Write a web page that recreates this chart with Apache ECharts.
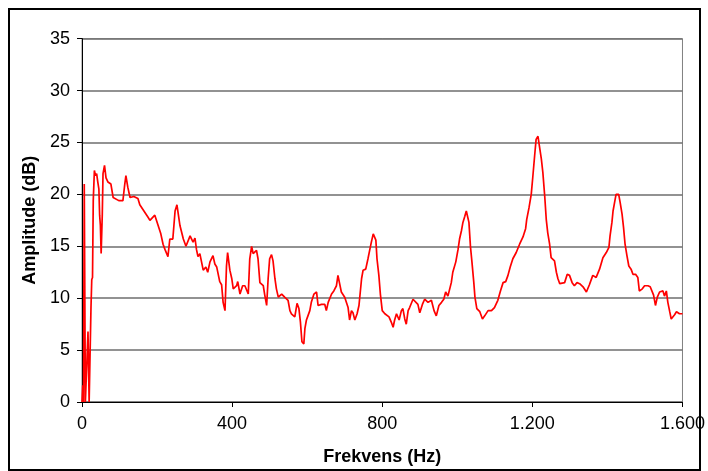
<!DOCTYPE html>
<html>
<head>
<meta charset="utf-8">
<script src="https://cdn.jsdelivr.net/npm/echarts@6/dist/echarts.min.js"></script>
<style>
  html, body { margin: 0; padding: 0; background: #fff; }
  #chart { width: 708px; height: 471px; }
</style>
</head>
<body>
<div id="chart"></div>
<script>
// frekvens (Hz) og amplitude (dB), lest av fra figuren
var freqHz = [
  0, 2, 4, 6, 9, 14, 16, 19, 22, 24, 26, 28, 30, 33, 36, 39, 42, 45, 47, 49, 51, 54, 56,
  60, 64, 69, 77, 83, 88, 98, 109, 114, 117, 122, 128, 138, 149, 154, 165, 176, 181, 194,
  202, 210, 216, 221, 229, 234, 242, 248, 253, 261, 270, 277, 282, 288, 292, 296, 301, 305,
  309, 314, 319, 323, 330, 335, 341, 349, 354, 359, 367, 372, 376, 381, 385, 388, 394, 399,
  403, 412, 415, 421, 428, 434, 443, 447, 452, 456, 465, 469, 474, 483, 487, 492, 496, 500,
  505, 509, 514, 518, 523, 532, 540, 549, 554, 558, 567, 573, 578, 582, 586, 591, 594, 598,
  602, 607, 611, 618, 625, 629, 638, 647, 651, 656, 665, 671, 678, 682, 687, 691, 700, 705,
  709, 713, 718, 722, 727, 733, 738, 745, 749, 756, 762, 767, 771, 776, 780, 783, 786, 791,
  795, 800, 807, 811, 818, 824, 829, 833, 838, 845, 851, 855, 860, 864, 869, 873, 882, 887,
  895, 900, 907, 913, 922, 931, 938, 944, 951, 958, 964, 969, 975, 984, 988, 996, 1002, 1006,
  1011, 1015, 1020, 1024, 1028, 1031, 1035, 1039, 1044, 1047, 1052, 1060, 1067, 1073, 1082,
  1091, 1099, 1108, 1115, 1122, 1129, 1135, 1141, 1148, 1157, 1166, 1175, 1182, 1185, 1191,
  1197, 1201, 1206, 1210, 1215, 1219, 1224, 1228, 1233, 1237, 1241, 1246, 1250, 1259, 1264,
  1268, 1273, 1277, 1286, 1293, 1299, 1306, 1312, 1319, 1326, 1335, 1344, 1352, 1361, 1370,
  1379, 1388, 1397, 1404, 1407, 1412, 1415, 1419, 1423, 1430, 1434, 1439, 1443, 1447, 1452,
  1457, 1463, 1468, 1475, 1481, 1485, 1493, 1499, 1508, 1514, 1519, 1523, 1528, 1533, 1539,
  1543, 1548, 1552, 1557, 1561, 1566, 1570, 1575, 1579, 1584, 1588, 1592, 1600
];
var ampDb = [
  0, 1.6, 0, 21.0, 0, 0, 6.8, 0, 0, 9.2, 11.8, 12.0, 19.4, 22.3, 21.8, 22.0, 21.2, 20.5, 18.0, 17.0, 14.3, 18.0, 22.0,
  22.8, 21.6, 21.2, 21.0, 19.7, 19.6, 19.4, 19.4, 21.0, 21.8, 20.7, 19.7, 19.8, 19.6, 19.0, 18.4, 17.8, 17.5, 18.0,
  17.1, 16.2, 15.2, 14.7, 14.0, 15.7, 15.7, 18.4, 19.0, 17.0, 15.7, 15.0, 15.1, 16.0, 15.7, 15.4, 15.8, 14.7,
  14.0, 14.3, 14.3, 12.7, 13.0, 12.5, 13.5, 14.1, 13.3, 13.0, 11.6, 11.3, 9.6, 8.8, 13.1, 14.4, 12.7, 11.9,
  10.9, 11.2, 11.6, 10.4, 11.2, 11.2, 10.4, 13.8, 15.0, 14.3, 14.6, 13.8, 11.5, 11.2, 10.3, 9.3, 11.9, 13.8,
  14.2, 13.6, 11.9, 10.9, 10.1, 10.4, 10.1, 9.8, 8.8, 8.5, 8.2, 9.5, 9.0, 7.7, 5.8, 5.6, 7.1, 7.9,
  8.3, 8.8, 9.6, 10.4, 10.6, 9.3, 9.4, 9.4, 8.8, 9.6, 10.4, 10.7, 11.2, 12.2, 12.3, 10.6, 10.1, 10.1,
  9.1, 7.9, 8.8, 8.6, 7.9, 8.5, 9.3, 11.9, 12.7, 12.8, 13.8, 14.7, 15.4, 16.2, 16.2, 15.6, 13.8, 12.2,
  10.4, 8.8, 8.5, 8.5, 8.2, 7.7, 7.2, 7.9, 8.5, 7.9, 8.8, 9.0, 8.0, 7.5, 8.8, 9.1, 9.9, 9.8,
  9.4, 8.6, 9.4, 9.9, 9.6, 9.8, 8.8, 8.3, 9.3, 9.6, 9.9, 10.6, 10.2, 11.5, 12.5, 13.5, 14.7, 15.7,
  16.5, 17.3, 17.9, 18.4, 18.3, 17.3, 15.0, 13.5, 11.5, 10.1, 9.0, 8.7, 8.0, 8.3, 8.8,
  8.8, 9.1, 9.8, 10.7, 11.5, 11.6, 12.2, 13.0, 13.8, 14.4, 15.2, 15.9, 16.7, 17.6, 18.7,
  20.0, 21.6, 23.7, 25.3, 25.6, 24.6, 23.4, 22.1, 19.8, 17.6, 16.3, 15.2, 13.9, 13.6, 12.5,
  11.9, 11.4, 11.4, 11.5, 12.3, 12.2, 11.5, 11.2, 11.5, 11.4, 11.1, 10.6, 11.3, 12.2, 12.0,
  12.8, 13.9, 14.4, 14.9, 16.0, 17.3, 18.4, 19.2, 20.0, 20.0, 19.2, 18.1, 16.8, 15.2, 14.1,
  13.1, 12.8, 12.3, 12.3, 12.0, 10.7, 10.9, 11.2, 11.2, 11.1, 11.2, 10.3, 9.3, 10.1, 10.6,
  10.5, 10.7, 10.2, 10.7, 9.6, 8.7, 8.0, 7.9, 8.4, 8.7, 8.8, 8.5, 8.5
];
var xTicks = [0, 400, 800, 1200, 1600];
var yTicks = [0, 5, 10, 15, 20, 25, 30, 35];

var points = [];
for (var i = 0; i < freqHz.length; i++) {
  points.push([freqHz[i], ampDb[i]]);
}

function fmtThousands(v) {
  // 1200 -> "1.200"
  return String(v).replace(/\B(?=(\d{3})+(?!\d))/g, '.');
}

var chart = echarts.init(document.getElementById('chart'));
var font = 'Liberation Sans, Arial, sans-serif';
var option = {
  animation: false,
  backgroundColor: '#fff',
  graphic: [{
    type: 'rect',
    shape: { x: 9, y: 9, width: 691, height: 461 },
    style: { fill: 'none', stroke: '#000', lineWidth: 2 },
    silent: true
  }],
  grid: {
    left: 82,
    top: 38.7,
    right: 25,
    bottom: 67.3,
    show: true,
    borderColor: '#808080',
    borderWidth: 1
  },
  xAxis: {
    type: 'value',
    min: xTicks[0],
    max: xTicks[xTicks.length - 1],
    interval: 400,
    name: 'Frekvens (Hz)',
    nameLocation: 'middle',
    nameGap: 46,
    nameTextStyle: { fontFamily: font, fontSize: 18, fontWeight: 'bold', color: '#000' },
    axisLine: { show: true, lineStyle: { color: '#000', width: 1 } },
    axisTick: { show: true, inside: false, length: 5, lineStyle: { color: '#000' } },
    axisLabel: {
      fontFamily: font, fontSize: 18, color: '#000', margin: 13,
      formatter: function (v) { return fmtThousands(v); }
    },
    splitLine: { show: false }
  },
  yAxis: {
    type: 'value',
    min: yTicks[0],
    max: yTicks[yTicks.length - 1],
    interval: 5,
    name: 'Amplitude (dB)',
    nameLocation: 'middle',
    nameGap: 42,
    nameTextStyle: { fontFamily: font, fontSize: 18, fontWeight: 'bold', color: '#000' },
    axisLine: { show: true, lineStyle: { color: '#000', width: 1 } },
    axisTick: { show: true, inside: false, length: 5, lineStyle: { color: '#000' } },
    axisLabel: { fontFamily: font, fontSize: 18, color: '#000', margin: 12 },
    splitLine: { show: true, lineStyle: { color: '#6e6e6e', width: 1.5 } }
  },
  series: [{
    type: 'line',
    data: points,
    showSymbol: false,
    lineStyle: { color: '#ff0000', width: 1.7 },
    itemStyle: { color: '#ff0000' }
  }]
};
chart.setOption(option);
</script>
</body>
</html>
